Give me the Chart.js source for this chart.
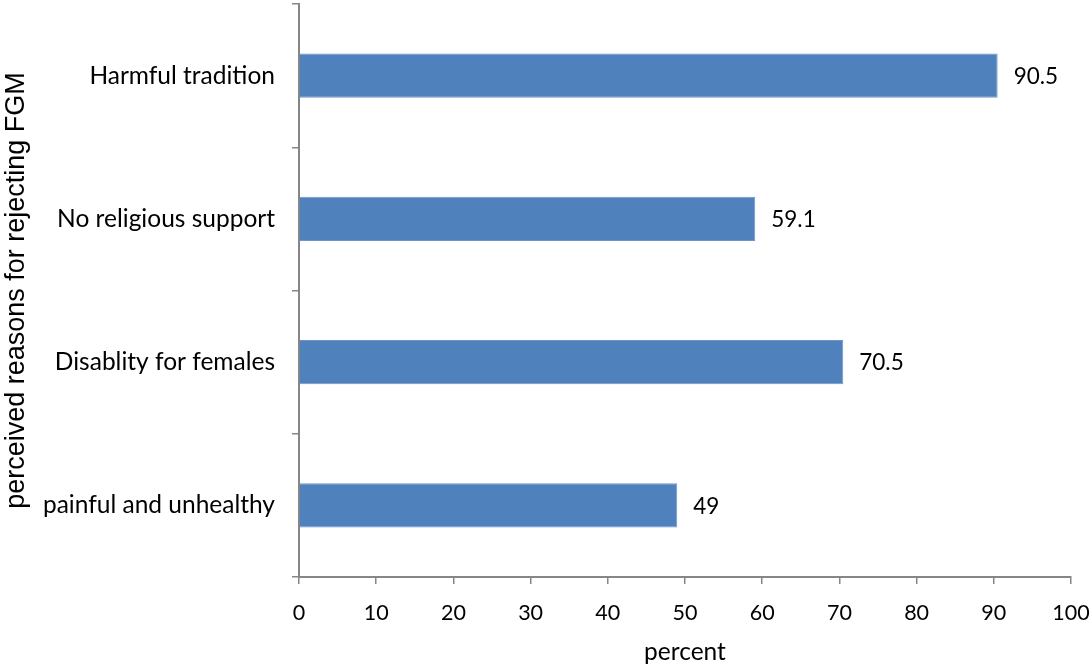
<!DOCTYPE html>
<html>
<head>
<meta charset="utf-8">
<script src="https://cdn.jsdelivr.net/npm/chart.js@4/dist/chart.umd.min.js"></script>
<style>
  html, body { margin: 0; padding: 0; background: #fff; }
  #wrap { width: 1092px; height: 664px; }
</style>
</head>
<body>
<div id="wrap"><canvas id="chart"></canvas></div>
<script>
const categories = ['Harmful tradition', 'No religious support', 'Disablity for females', 'painful and unhealthy'];
const percentValues = [90.5, 59.1, 70.5, 49];
const xTicks = [0, 10, 20, 30, 40, 50, 60, 70, 80, 90, 100];

const axisGray = '#868686';
const fam = 'Lato, "Open Sans", sans-serif';
const catFont = { family: fam, size: 24.5 };
const numFont = { family: fam, size: 21.5 };
const valFont = { family: fam, size: 22.5 };

// write the value to the right of each bar
const valueLabels = {
  id: 'valueLabels',
  afterDatasetsDraw(chart) {
    const ctx = chart.ctx;
    const meta = chart.getDatasetMeta(0);
    ctx.save();
    ctx.font = `${valFont.size}px ${valFont.family}`;
    ctx.fillStyle = '#000';
    ctx.textAlign = 'left';
    ctx.textBaseline = 'middle';
    meta.data.forEach((bar, i) => {
      ctx.fillText(String(percentValues[i]), bar.x + 16, bar.y + 1);
    });
    ctx.restore();
  }
};

const ctx = document.getElementById('chart').getContext('2d');
new Chart(ctx, {
  type: 'bar',
  data: {
    labels: categories,
    datasets: [{
      data: percentValues,
      backgroundColor: '#4F81BD',
      borderColor: '#6E95C8',
      borderWidth: 1,
      barPercentage: 0.31,
      categoryPercentage: 1
    }]
  },
  options: {
    indexAxis: 'y',
    responsive: true,
    maintainAspectRatio: false,
    animation: false,
    layout: { padding: { top: 4, right: 21, left: 0, bottom: -3 } },
    plugins: { legend: { display: false }, tooltip: { enabled: false } },
    scales: {
      x: {
        min: 0,
        max: 100,
        afterBuildTicks: (scale) => { scale.ticks = xTicks.map(v => ({ value: v })); },
        afterFit: (scale) => { scale.height = 90; scale.paddingRight = 0; scale.paddingLeft = 0; },
        grid: { drawOnChartArea: false, tickLength: 7, color: axisGray, lineWidth: 1.5 },
        border: { color: axisGray, width: 2 },
        ticks: { color: '#000', font: numFont, padding: 16, maxRotation: 0 },
        title: { display: true, text: 'percent', color: '#000', font: catFont, padding: { top: 2, bottom: 0 } }
      },
      y: {
        afterFit: (scale) => { scale.width = 299; scale.paddingTop = 0; scale.paddingBottom = 0; },
        grid: { offset: true, drawOnChartArea: false, tickLength: 7, color: axisGray, lineWidth: 1.5 },
        border: { color: axisGray, width: 2 },
        ticks: { color: '#000', font: catFont, padding: 17 },
        title: {
          display: true,
          text: 'perceived reasons for rejecting FGM',
          color: '#000',
          font: { family: '"Liberation Sans", Arial, sans-serif', size: 27 },
          padding: { top: 0, bottom: 0 }
        }
      }
    }
  },
  plugins: [valueLabels]
});
</script>
</body>
</html>
